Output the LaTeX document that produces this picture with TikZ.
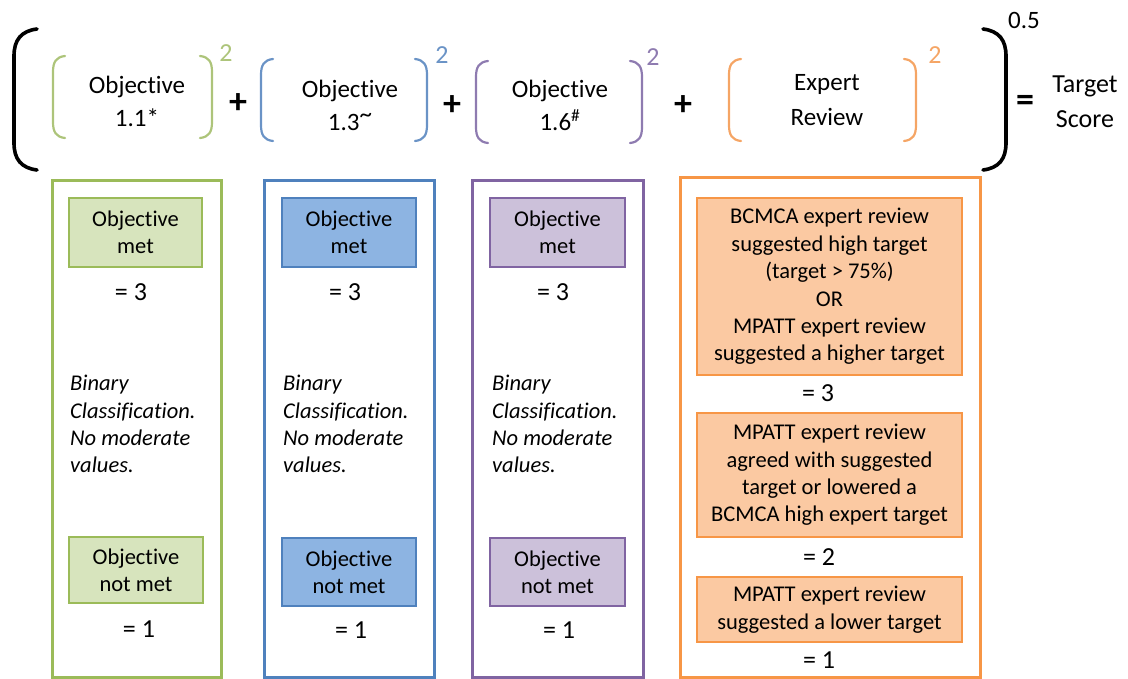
\documentclass[tikz,border=0pt]{standalone}
\usepackage{fontspec}
\setmainfont{Carlito}[Ligatures=CommonOff]
\definecolor{gLine}{HTML}{9BBB59}
\definecolor{gFill}{HTML}{D7E4BD}
\definecolor{gPar}{HTML}{ADC47A}
\definecolor{bLine}{HTML}{4F81BD}
\definecolor{bFill}{HTML}{8DB4E2}
\definecolor{bPar}{HTML}{6A93C6}
\definecolor{pLine}{HTML}{8064A2}
\definecolor{pFill}{HTML}{CCC1DA}
\definecolor{pPar}{HTML}{8E7BB0}
\definecolor{oLine}{HTML}{F79646}
\definecolor{oFill}{HTML}{FBC9A2}
\definecolor{oPar}{HTML}{F5A565}
\begin{document}
\begin{tikzpicture}[x=1pt,y=-1pt,
  outerbox/.style={draw, line width=3pt},
  innerbox/.style={draw, line width=2.6pt, align=center, inner sep=0pt,
    font=\fontsize{22.5}{27.4}\selectfont},
  val/.style={font=\fontsize{26}{28}\selectfont, inner sep=0pt},
  note/.style={anchor=west, inner sep=0pt, text height=16pt, text depth=5pt,
    font=\fontsize{22.5}{27}\selectfont\itshape},
  toptext/.style={align=center, inner sep=0pt, font=\fontsize{25}{33}\selectfont},
  sq/.style={inner sep=0pt, font=\fontsize{26}{26}\selectfont},
  op/.style={inner sep=0pt, font=\fontsize{36}{36}\selectfont\bfseries},
  lp/.pic={\draw[line width=2.2pt, line cap=round] (12,-41) .. controls (3,-40) and (0,-35) .. (0,-25) -- (0,25) .. controls (0,35) and (3,40) .. (12,41);},
  rp/.pic={\draw[line width=2.2pt, line cap=round] (-12,-41) .. controls (-3,-40) and (0,-35) .. (0,-25) -- (0,25) .. controls (0,35) and (-3,40) .. (-12,41);}
]
\useasboundingbox (0,0) rectangle (1128,679);

% big parentheses
\draw[line width=3.6pt, line cap=round] (37,29) .. controls (21,31) and (14,40) .. (14,56) -- (14,143) .. controls (14,159) and (21,168) .. (37,170);
\draw[line width=3.6pt, line cap=round] (983,29) .. controls (999,31) and (1006,40) .. (1006,56) -- (1006,143) .. controls (1006,159) and (999,168) .. (983,170);
\node[inner sep=0pt, font=\fontsize{25}{25}\selectfont] (exp) at (1024,20) {0.5};
\node[op] (eq) at (1025,103) {=};
\node[align=center, inner sep=0pt, font=\fontsize{26}{35}\selectfont] (ts) at (1085,102) {Target\\Score};

% green term
\pic[color=gPar] at (53,97) {lp};
\pic[color=gPar] at (212,97) {rp};
\node[toptext] (t1) at (137,101) {Objective\\1.1*};
\node[sq, text=gPar] (s1) at (226,53) {2};
\node[op] (plus1) at (238,104) {+};

% blue term
\pic[color=bPar] at (261,100) {lp};
\pic[color=bPar] at (427,100) {rp};
\node[toptext] (t2) at (350,105) {Objective\\1.3\raisebox{0.3em}{\textasciitilde}};
\node[sq, text=bPar] (s2) at (442,55) {2};
\node[op] (plus2) at (452,106) {+};

% purple term
\pic[color=pPar] at (476,102) {lp};
\pic[color=pPar] at (642,102) {rp};
\node[toptext] (t3) at (560,105) {Objective\\1.6\textsuperscript{\#}};
\node[sq, text=pPar] (s3) at (653,57) {2};
\node[op] (plus3) at (683,106) {+};

% orange term
\pic[color=oPar] at (729,100) {lp};
\pic[color=oPar] at (916,100) {rp};
\node[toptext, font=\fontsize{25}{35}\selectfont] (t4) at (827,100) {Expert\\Review};
\node[sq, text=oPar] (s4) at (935,55) {2};

% outer boxes
\draw[outerbox, gLine] (52,181) rectangle (221,677);
\draw[outerbox, bLine] (264,181) rectangle (434,677);
\draw[outerbox, pLine] (472,181) rectangle (643,677);
\draw[outerbox, oLine] (680,178) rectangle (980,677);

% green column
\node[innerbox, draw=gLine, fill=gFill, minimum width=133pt, minimum height=69pt] (gmet) at (135.5,232.5) {Objective\\met};
\node[val] (gv3) at (131,292) {= 3};
\node[note] (gn1) at (70,385) {Binary};
\node[note] (gn2) at (70,413) {Classification.};
\node[note] (gn3) at (70,440) {No moderate};
\node[note] (gn4) at (70,467) {values.};
\node[innerbox, draw=gLine, fill=gFill, minimum width=134pt, minimum height=66pt] (gnot) at (136,570) {Objective\\not met};
\node[val] (gv1) at (139,629) {= 1};

% blue column
\node[innerbox, draw=bLine, fill=bFill, minimum width=134pt, minimum height=69pt] (bmet) at (349,232.5) {Objective\\met};
\node[val] (bv3) at (345,292) {= 3};
\node[note] (bn1) at (283,385) {Binary};
\node[note] (bn2) at (283,413) {Classification.};
\node[note] (bn3) at (283,440) {No moderate};
\node[note] (bn4) at (283,467) {values.};
\node[innerbox, draw=bLine, fill=bFill, minimum width=134pt, minimum height=68pt] (bnot) at (349,572) {Objective\\not met};
\node[val] (bv1) at (351,630) {= 1};

% purple column
\node[innerbox, draw=pLine, fill=pFill, minimum width=135pt, minimum height=69pt] (pmet) at (557.5,232.5) {Objective\\met};
\node[val] (pv3) at (553,292) {= 3};
\node[note] (pn1) at (492,385) {Binary};
\node[note] (pn2) at (492,413) {Classification.};
\node[note] (pn3) at (492,440) {No moderate};
\node[note] (pn4) at (492,467) {values.};
\node[innerbox, draw=pLine, fill=pFill, minimum width=135pt, minimum height=68pt] (pnot) at (557.5,572) {Objective\\not met};
\node[val] (pv1) at (559,630) {= 1};

% orange column
\node[innerbox, draw=oLine, fill=oFill, minimum width=265pt, minimum height=177pt] (o1) at (829.5,286.5) {BCMCA expert review\\suggested high target\\(target > 75\%)\\OR\\MPATT expert review\\suggested a higher target};
\node[val] (ov3) at (818,393) {= 3};
\node[innerbox, draw=oLine, fill=oFill, minimum width=265pt, minimum height=124pt] (o2) at (829.5,475) {MPATT expert review\\agreed with suggested\\target or lowered a\\BCMCA high expert target};
\node[val] (ov2) at (819,557) {= 2};
\node[innerbox, draw=oLine, fill=oFill, minimum width=265pt, minimum height=65pt] (o3) at (829.5,609.5) {MPATT expert review\\suggested a lower target};
\node[val] (ov1) at (819,660) {= 1};
\end{tikzpicture}
\end{document}
